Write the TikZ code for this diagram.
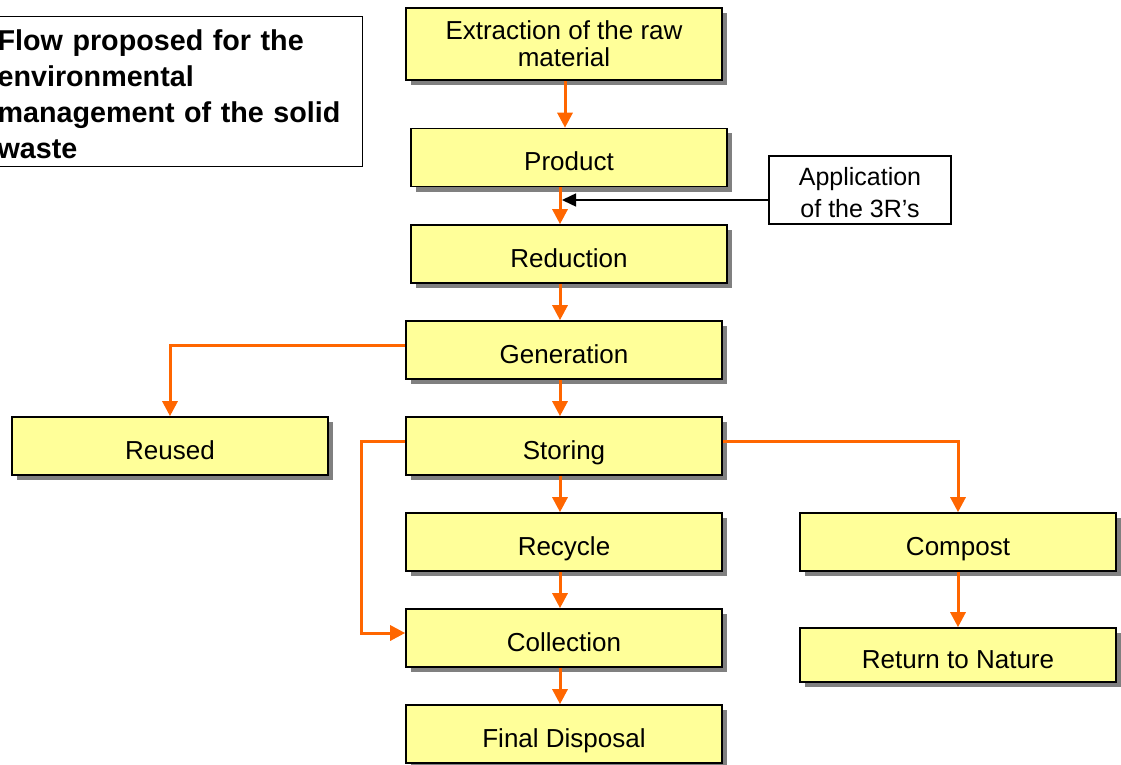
\documentclass[tikz,border=0pt]{standalone}
\usepackage{fontspec}
\setmainfont{Liberation Sans}
\usetikzlibrary{arrows.meta,shadows}
\definecolor{boxyellow}{HTML}{FFFF99}
\definecolor{floworange}{HTML}{FF6600}
\definecolor{shadowgray}{HTML}{808080}
\begin{document}
\begin{tikzpicture}[x=1pt,y=-1pt,
  stage/.style={draw=black,line width=1.6pt,fill=boxyellow,
    minimum width=316pt,minimum height=58pt,inner sep=0pt,align=center,
    font=\fontsize{26}{27}\selectfont,
    drop shadow={shadow xshift=5pt,shadow yshift=-5pt,fill=shadowgray,opacity=1}},
  oneline/.style={text height=26.5pt,text depth=0pt},
  note/.style={draw=black,line width=1.2pt,fill=white,inner sep=0pt,align=center},
  flow/.style={draw=floworange,line width=3pt,-{Triangle[length=15pt,width=15pt]}},
  hint/.style={draw=black,line width=1.5pt,-{Triangle[length=14pt,width=13pt]}},
]
\useasboundingbox (0,0) rectangle (1121,765);

% vertical guide lines for the main column of arrows
\coordinate (topline) at (565,0);
\coordinate (spine) at (560,0);
\coordinate (hintend) at (562,0);

% title
\node[note,anchor=north west,minimum width=372pt,minimum height=150pt,
  text width=358pt,align=left,inner xsep=7pt,
  font=\fontsize{28.7}{36}\selectfont\bfseries] (title) at (-10,16)
  {\rule{0pt}{27pt}Flow proposed for the\\environmental\\management of the solid\\waste};

% stages
\node[stage,minimum height=72pt] (ext) at (564,44) {Extraction of the raw\\material};
\node[stage,oneline] (prod) at (569,157.5) {Product};
\node[stage,oneline] (red)  at (569,254)   {Reduction};
\node[stage,oneline] (gen)  at (564,350)   {Generation};
\node[stage,oneline] (reu)  at (170,446)   {Reused};
\node[stage,oneline] (sto)  at (564,446)   {Storing};
\node[stage,oneline] (rec)  at (564,542)   {Recycle};
\node[stage,oneline] (col)  at (564,638)   {Collection};
\node[stage,oneline] (fin)  at (564,734)   {Final Disposal};
\node[stage,oneline] (comp) at (958,542)   {Compost};
\node[stage,oneline,minimum height=54pt] (ret) at (958,655) {Return to Nature};

% side note
\node[note,minimum width=182pt,minimum height=68pt,
  font=\fontsize{25}{32}\selectfont] (app) at (860,190) {\rule{0pt}{23pt}Application\\of the 3R’s};

% connectors
\draw[flow] (ext.south -| topline) -- (prod.north -| topline);
\draw[flow] (prod.south -| spine) -- (red.north -| spine);
\draw[hint] ([yshift=-10pt]app.west) -- ([yshift=-10pt]app.west -| hintend);
\draw[flow] (red.south -| spine) -- (gen.north -| spine);
\draw[flow] (gen.south -| spine) -- (sto.north -| spine);
\draw[flow] (sto.south -| spine) -- (rec.north -| spine);
\draw[flow] (rec.south -| spine) -- (col.north -| spine);
\draw[flow] (col.south -| spine) -- (fin.north -| spine);
\draw[flow] ([yshift=5pt]gen.west) -| (reu.north);
\draw[flow] ([yshift=5pt]sto.west) -- ++(-44,0) |- ([yshift=5pt]col.west);
\draw[flow] ([yshift=5pt]sto.east) -| (comp.north);
\draw[flow] (comp.south) -- (ret.north);
\end{tikzpicture}
\end{document}
